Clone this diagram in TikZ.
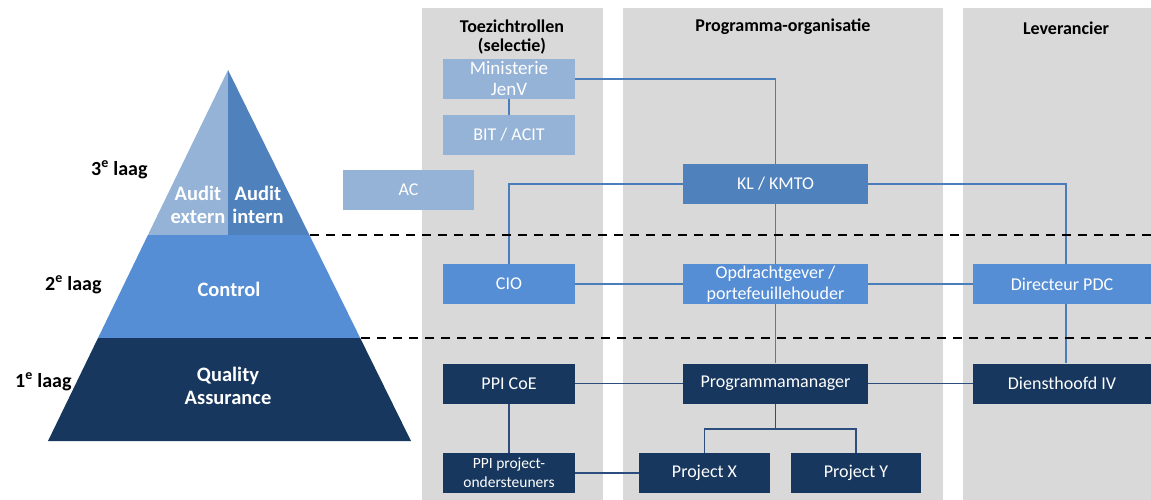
\documentclass[tikz,border=0pt]{standalone}
\usepackage{fontspec}
\setmainfont{Carlito}
\usetikzlibrary{calc}
\definecolor{lblue}{HTML}{95B3D7}
\definecolor{mblue}{HTML}{4F81BD}
\definecolor{cblue}{HTML}{558ED5}
\definecolor{navy}{HTML}{17375E}
\definecolor{bggray}{HTML}{D9D9D9}
\definecolor{lineblue}{HTML}{4A7EBB}
\definecolor{linedark}{HTML}{2C4D7D}
\begin{document}
\begin{tikzpicture}[x=1pt,y=-1pt,
  box/.style={rectangle, inner sep=0pt, text=white, font=\fontsize{18}{21}\selectfont, align=center},
  small/.style={box, minimum width=132pt, minimum height=40pt},
  wide/.style={box, minimum width=185pt, minimum height=40pt},
  conn/.style={draw=lineblue, line width=1.9pt},
  conndk/.style={draw=linedark, line width=1.9pt},
  sep/.style={draw=black, line width=2.2pt, dash pattern=on 9pt off 7pt},
  hdr/.style={inner sep=0pt, font=\bfseries\fontsize{18}{19}\selectfont, align=center},
  pyr/.style={inner sep=0pt, text=white, font=\bfseries\fontsize{20.5}{23}\selectfont, align=center},
  lvl/.style={inner sep=0pt, anchor=west, font=\bfseries\fontsize{20}{22}\selectfont}]

\useasboundingbox (0,0) rectangle (1151,500);

% column backgrounds
\fill[bggray] (422,8) rectangle (603,500);
\fill[bggray] (623,8) rectangle (943,500);
\fill[bggray] (963,8) rectangle (1151,500);

% pyramid
\fill[lblue] (228,70) -- (147.9,235) -- (228,235) -- cycle;
\fill[mblue] (228,70) -- (228,235) -- (309.4,235) -- cycle;
\fill[cblue] (147.9,235) -- (309.4,235) -- (360.2,338) -- (98,338) -- cycle;
\fill[navy] (98,338) -- (360.2,338) -- (411,441) -- (48,441) -- cycle;

\node[pyr] (ae) at (198,204.5) {Audit\\extern};
\node[pyr] (ai) at (258,204.5) {Audit\\intern};
\node[pyr] (ctl) at (229,289) {Control};
\node[pyr] (qa) at (228,385.5) {Quality\\Assurance};

\node[lvl] (l3) at (91,170) {3\textsuperscript{e} laag};
\node[lvl] (l2) at (45,285) {2\textsuperscript{e} laag};
\node[lvl] (l1) at (15,382) {1\textsuperscript{e} laag};

% headers
\node[hdr] (h1) at (512,37.5) {Toezichtrollen\\(selectie)};
\node[hdr] (h2) at (783,27) {Programma-organisatie};
\node[hdr] (h3) at (1066,28) {Leverancier};

% boxes
\node[small, fill=lblue, font=\fontsize{19}{21}\selectfont] (mini) at (509,79) {Ministerie\\JenV};
\node[small, fill=lblue] (bit) at (509,135) {BIT / ACIT};
\node[small, fill=lblue, minimum width=131pt] (ac) at (408.5,189.5) {AC};
\node[wide, fill=mblue] (kl) at (775.5,184) {KL / KMTO};

\node[small, fill=cblue] (cio) at (509,284) {CIO};
\node[wide, fill=cblue] (opd) at (775.5,284) {Opdrachtgever /\\portefeuillehouder};
\node[box, fill=cblue, minimum width=178pt, minimum height=40pt] (dir) at (1062,284) {Directeur PDC};

\node[small, fill=navy] (pcoe) at (509,383.5) {PPI CoE};
\node[wide, fill=navy] (pm) at (775.5,383.5) {Programmamanager};
\node[box, fill=navy, minimum width=178pt, minimum height=40pt] (dh) at (1062,383.5) {Diensthoofd IV};

\node[small, fill=navy, font=\fontsize{15.5}{19}\selectfont] (ppi) at (509,473) {PPI project-\\ondersteuners};
\node[box, fill=navy, minimum width=131pt, minimum height=40pt] (px) at (704.5,473) {Project X};
\node[box, fill=navy, minimum width=130pt, minimum height=40pt] (py) at (856,473) {Project Y};

% connectors
\draw[conn] (mini.east) -| (kl.north);
\draw[conn] (mini.south) -- (bit.north);
\draw[conn] (kl.west) -| (cio.north);
\draw[conn] (kl.east) -| ([xshift=4pt]dir.north);
\draw[conn] (kl.south) -- (opd.north);
\draw[conn] (cio.east) -- (opd.west);
\draw[conn] (opd.east) -- (dir.west);
\draw[conn] (opd.south) -- (pm.north);
\draw[conn] ([xshift=4pt]dir.south) -- ([xshift=4pt]dh.north);
\draw[conndk] (pcoe.east) -- (pm.west);
\draw[conndk] (pm.east) -- (dh.west);
\draw[conndk] (pcoe.south) -- (ppi.north);
\draw[conndk] (ppi.east) -- (px.west);
\coordinate (br) at (775.5,429);
\draw[conndk] (pm.south) -- (br) -| (px.north);
\draw[conndk] (br) -| (py.north);

% layer separators
\coordinate (d1s) at (310,235);
\coordinate (d1e) at (1151,235);
\coordinate (d2s) at (361,338);
\coordinate (d2e) at (1151,338);
\draw[sep] (d1s) -- (d1e);
\draw[sep] (d2s) -- (d2e);
\end{tikzpicture}
\end{document}
